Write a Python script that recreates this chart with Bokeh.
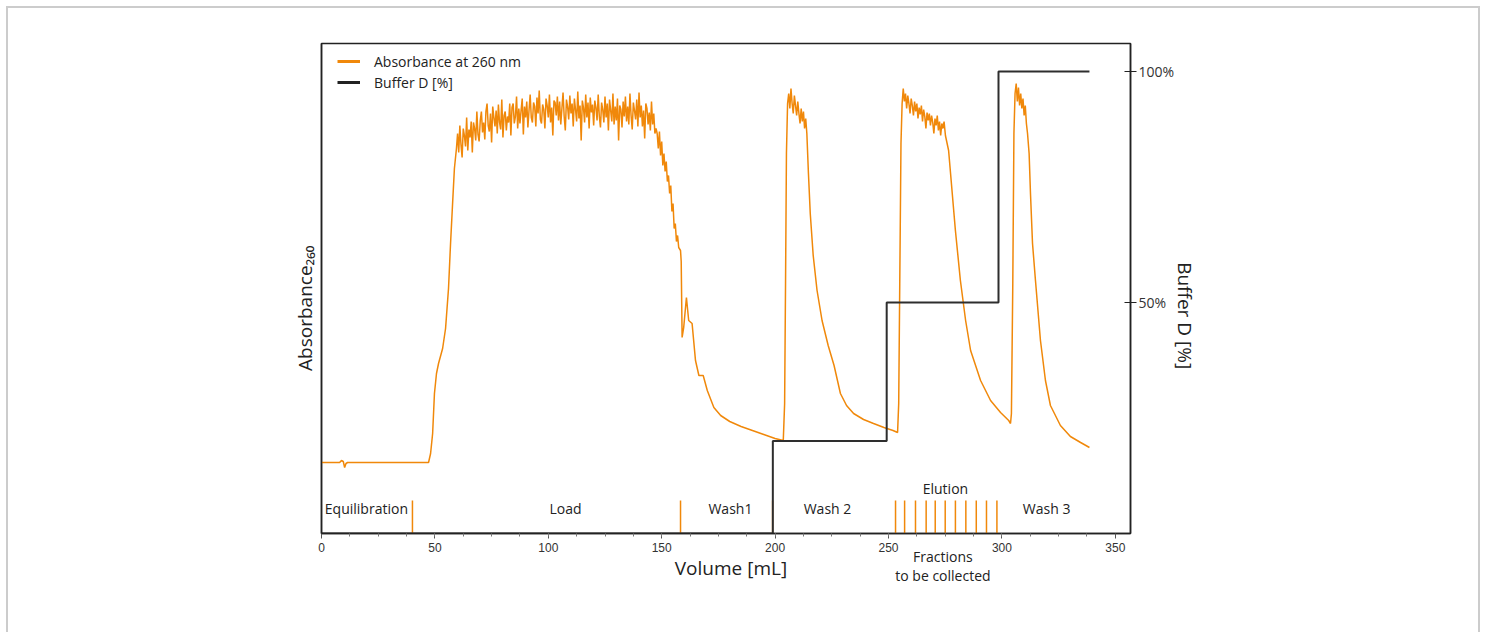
from bokeh.plotting import figure
from bokeh.models import (Range1d, LinearAxis, FixedTicker, PrintfTickFormatter,
                          Legend, LegendItem)
from bokeh.core.properties import value
from bokeh.embed import file_html
from bokeh.resources import INLINE

ORANGE = "#F0880A"
DARK = "#2e2e2e"
NB = "\u00a0"

# ---------------- data ----------------
base_vol = [0, 8.0, 8.8, 9.6, 10.2, 10.8, 11.5, 47.2]
base_abs = [71, 71, 73, 72, 66, 70, 71, 71]

rise_vol = [48.1, 49.0, 49.8, 50.7, 51.6, 53.4, 54.7, 56.0, 56.9, 57.8, 58.6, 59.5]
rise_abs = [80, 100, 140, 160, 170, 185, 205, 245, 290, 330, 365, 385]

plateau_start = 60.0
plateau_step = 0.5
plateau_abs = [
    400, 381, 408, 389, 376, 405, 398, 387, 416, 383,
    404, 396, 412, 381, 411, 405, 393, 422, 399, 392,
    413, 422, 401, 411, 394, 422, 430, 408, 402, 420,
    391, 427, 416, 407, 423, 400, 429, 411, 404, 434,
    396, 418, 422, 403, 417, 411, 430, 398, 426, 430,
    410, 417, 437, 405, 425, 410, 423, 435, 399, 427,
    416, 432, 406, 423, 439, 416, 411, 431, 427, 407,
    436, 420, 443, 414, 410, 429, 424, 405, 435, 428,
    416, 439, 411, 426, 398, 433, 431, 418, 437, 413,
    432, 409, 425, 441, 417, 403, 434, 427, 414, 438,
    420, 430, 407, 435, 424, 412, 442, 415, 428, 393,
    433, 426, 411, 439, 416, 431, 405, 436, 421, 429,
    408, 433, 426, 413, 439, 417, 406, 431, 424, 411,
    437, 416, 430, 403, 434, 423, 412, 440, 409, 427,
    413, 435, 393, 428, 424, 406, 432, 417, 437, 412,
    427, 409, 440, 418, 404, 431, 423, 414, 434, 407,
    441, 416, 428, 407, 423, 395, 430, 425, 409, 421,
    403, 432, 409, 420, 400, 405,
]

desc_vol = [148.0, 148.5, 149.0, 149.5, 150.0, 150.5, 151.0, 151.5, 152.0, 152.5,
            153.0, 153.5, 154.0, 154.5, 155.0, 155.5, 156.0, 156.5, 157.0, 157.5,
            158.3, 158.6, 159.0, 159.7, 160.9, 161.9, 163.4, 164.9, 166.4, 168.3,
            170.1, 173.0, 176.0, 180.0, 185.0, 190.0, 195.0, 200.0, 203.6]
desc_abs = [400, 385, 402, 378, 392, 368, 380, 362, 372, 352,
            358, 340, 348, 322, 330, 305, 310, 292, 298, 286,
            283, 272, 196, 206, 236, 213, 210, 173, 158, 158,
            143, 126, 118, 112, 107, 103, 99, 95, 93]

wash2_vol = [204.2, 204.6, 205.0, 205.5, 206.0, 206.5, 207.0, 207.5, 208.0, 208.5,
             209.0, 209.5, 210.0, 210.5, 211.0, 211.5, 212.0, 212.5, 213.0, 213.5,
             214.0, 214.7, 215.5, 216.8, 218.5, 220.7, 223.4, 226.0, 228.8, 231.5,
             234.6, 239.0, 243.4, 248.0, 252.0, 254.0]
wash2_abs = [130, 250, 380, 430, 440, 425, 445, 430, 420, 438,
             428, 418, 432, 420, 410, 425, 412, 422, 405, 415,
             400, 360, 320, 278, 243, 213, 188, 168, 140, 128,
             120, 114, 110, 106, 103, 101]

elu_vol = [254.5, 255.0, 255.5, 256.0, 256.5, 257.0, 257.5, 258.0, 258.5, 259.0,
           259.5, 260.0, 260.5, 261.0, 261.5, 262.0, 262.5, 263.0, 263.5, 264.0,
           264.5, 265.0, 265.5, 266.0, 266.5, 267.0, 267.5, 268.0, 268.5, 269.0,
           269.5, 270.0, 270.5, 271.0, 271.5, 272.0, 272.5, 273.0, 273.5, 274.0,
           274.5, 275.1, 276.5, 279.5, 281.7, 284.0, 286.2, 290.6, 295.0, 299.4,
           303.0, 303.8]
elu_abs = [130, 260, 390, 430, 445, 432, 440, 425, 438, 430,
           420, 435, 428, 418, 432, 422, 430, 415, 426, 419,
           428, 412, 424, 417, 405, 421, 413, 420, 408, 418,
           411, 400, 415, 408, 418, 403, 412, 398, 410, 405,
           412, 398, 383, 303, 253, 213, 183, 153, 133, 121,
           113, 110]

wash3_vol = [304.2, 304.8, 305.3, 305.8, 306.3, 306.8, 307.3, 307.8, 308.3, 308.8,
             309.3, 309.8, 310.3, 310.8, 311.3, 312.0, 312.6, 313.5, 314.8, 317.0,
             319.2, 321.4, 325.8, 330.2, 334.7, 338.6]
wash3_abs = [120, 250, 400, 440, 450, 432, 446, 428, 440, 425,
             435, 418, 428, 410, 400, 380, 340, 290, 253, 193,
             153, 128, 108, 97, 91, 86]

buf_vol = [0, 199.0, 199.0, 249.2, 249.2, 298.5, 298.5, 338.6]
buf_pct = [0, 0, 20, 20, 50, 50, 100, 100]

phase_marks = [40.1, 158.3, 198.9]
fraction_marks = [253.1, 257.1, 261.9, 266.6, 270.6, 275.0, 279.5, 284.1, 288.7, 293.2, 297.8]

phase_names = ["Equilibration", "Load", "Wash1", "Wash 2", "Elution", "Wash 3"]
phase_x = [19.8, 107.6, 180.3, 223.1, 275.1, 319.7]
phase_y = [25, 25, 25, 25, 45, 25]

x_ticks = [0, 50, 100, 150, 200, 250, 300, 350]
x_minor = [12.5 * i for i in range(1, 28)]
buf_ticks = [50, 100]
fractions_pos = 274
fractions_text = "Fractions\nto be collected"

# assemble the absorbance trace
plateau_vol = [plateau_start + plateau_step * i for i in range(len(plateau_abs))]
vol = base_vol + rise_vol + plateau_vol + desc_vol + wash2_vol + elu_vol + wash3_vol
a260 = base_abs + rise_abs + plateau_abs + desc_abs + wash2_abs + elu_abs + wash3_abs

# ---------------- figure ----------------
p = figure(width=1470, height=626, output_backend="svg", toolbar_location=None,
           x_range=Range1d(0, 356.7), y_range=Range1d(0, 490),
           min_border_left=313, min_border_right=348, min_border_top=35,
           min_border_bottom=101)
p.styles = {"margin-left": "8px", "margin-top": "8px",
            "box-shadow": "-2px -2px 0 #cccccc, 2px -2px 0 #cccccc"}
p.extra_y_ranges = {"buf": Range1d(0, 106.06)}
p.grid.visible = False
p.outline_line_color = "#222222"
p.outline_line_width = 1.5
p.outline_line_alpha = 1.0

# left axis: only line + label
ya = p.yaxis[0]
ya.ticker = FixedTicker(ticks=[], minor_ticks=[])
ya.axis_line_color = "#222222"
ya.axis_line_width = 1.5
ya.axis_label = "Absorbance\u2082\u2086\u2080" + NB * 8
ya.axis_label_text_font = "Open Sans"
ya.axis_label_text_font_size = "19px"
ya.axis_label_text_font_style = "normal"
ya.axis_label_text_color = "#222222"
ya.axis_label_standoff = 4

xa = p.xaxis[0]
xa.ticker = FixedTicker(ticks=x_ticks, minor_ticks=x_minor)
xa.major_tick_in = 0
xa.major_tick_out = 5
xa.minor_tick_in = 0
xa.minor_tick_out = 3
xa.axis_line_color = "#222222"
xa.axis_line_width = 1.5
xa.major_tick_line_color = "#555555"
xa.minor_tick_line_color = "#777777"
xa.major_label_text_font = "Liberation Sans"
xa.major_label_text_font_size = "12px"
xa.major_label_text_color = "#333333"
xa.major_label_standoff = 4
xa.axis_label = NB * 2 + "Volume [mL]"
xa.axis_label_text_font = "Open Sans"
xa.axis_label_text_font_size = "19px"
xa.axis_label_text_font_style = "normal"
xa.axis_label_text_color = "#222222"
xa.axis_label_standoff = 0

# second bottom axis carrying only the "Fractions to be collected" note
fa = LinearAxis(ticker=FixedTicker(ticks=[fractions_pos], minor_ticks=[]),
                major_label_overrides={fractions_pos: fractions_text})
fa.axis_line_color = None
fa.major_tick_line_color = None
fa.major_tick_in = 0
fa.major_tick_out = 0
fa.major_label_text_font = "Open Sans"
fa.major_label_text_font_size = "14px"
fa.major_label_text_color = "#222222"
fa.major_label_text_line_height = 1.0
fa.major_label_standoff = -37
p.add_layout(fa, "below")

ra = LinearAxis(y_range_name="buf", ticker=FixedTicker(ticks=buf_ticks, minor_ticks=[]),
                formatter=PrintfTickFormatter(format="%d%%"))
ra.major_tick_in = 6
ra.major_tick_out = 6
ra.major_tick_line_color = "#222222"
ra.major_tick_line_width = 1.2
ra.axis_line_color = "#222222"
ra.axis_line_width = 1.5
ra.major_label_text_font = "Open Sans"
ra.major_label_text_font_size = "14px"
ra.major_label_text_color = "#333333"
ra.major_label_standoff = 2
ra.axis_label = NB * 11 + "Buffer D [%]"
ra.axis_label_text_font = "Open Sans"
ra.axis_label_text_font_size = "19px"
ra.axis_label_text_font_style = "normal"
ra.axis_label_text_color = "#222222"
ra.axis_label_standoff = -5
p.add_layout(ra, "right")

# marks
p.segment(x0=phase_marks, y0=0, x1=phase_marks, y1=33, line_color=ORANGE, line_width=1.5)
p.segment(x0=fraction_marks, y0=0, x1=fraction_marks, y1=33, line_color=ORANGE, line_width=1.5)

r_abs = p.line(vol, a260, line_color=ORANGE, line_width=1.5)
r_buf = p.line(buf_vol, buf_pct, y_range_name="buf", line_color=DARK, line_width=2)

p.text(x=phase_x, y=phase_y, text=phase_names, text_font=value("Open Sans"),
       text_font_size="14px", text_align="center", text_baseline="middle",
       text_color="#222222")

# legend (swatches drawn by off-screen stand-in lines)
l1 = p.line([-100, -99], [-100, -100], line_color=ORANGE, line_width=3)
l2 = p.line([-100, -99], [-100, -100], line_color="#222222", line_width=3)
legend = Legend(items=[LegendItem(label="Absorbance at 260 nm", renderers=[l1]),
                       LegendItem(label="Buffer D [%]", renderers=[l2])],
                location=(8, 433), orientation="vertical")
legend.background_fill_alpha = 0
legend.border_line_alpha = 0
legend.padding = 8
legend.margin = 0
legend.spacing = 1
legend.glyph_width = 23
legend.glyph_height = 20
legend.label_height = 20
legend.label_standoff = 14
legend.label_text_font = "Open Sans"
legend.label_text_font_size = "14px"
legend.label_text_color = "#222222"
p.add_layout(legend)

open("out.html", "w").write(file_html(p, INLINE))
